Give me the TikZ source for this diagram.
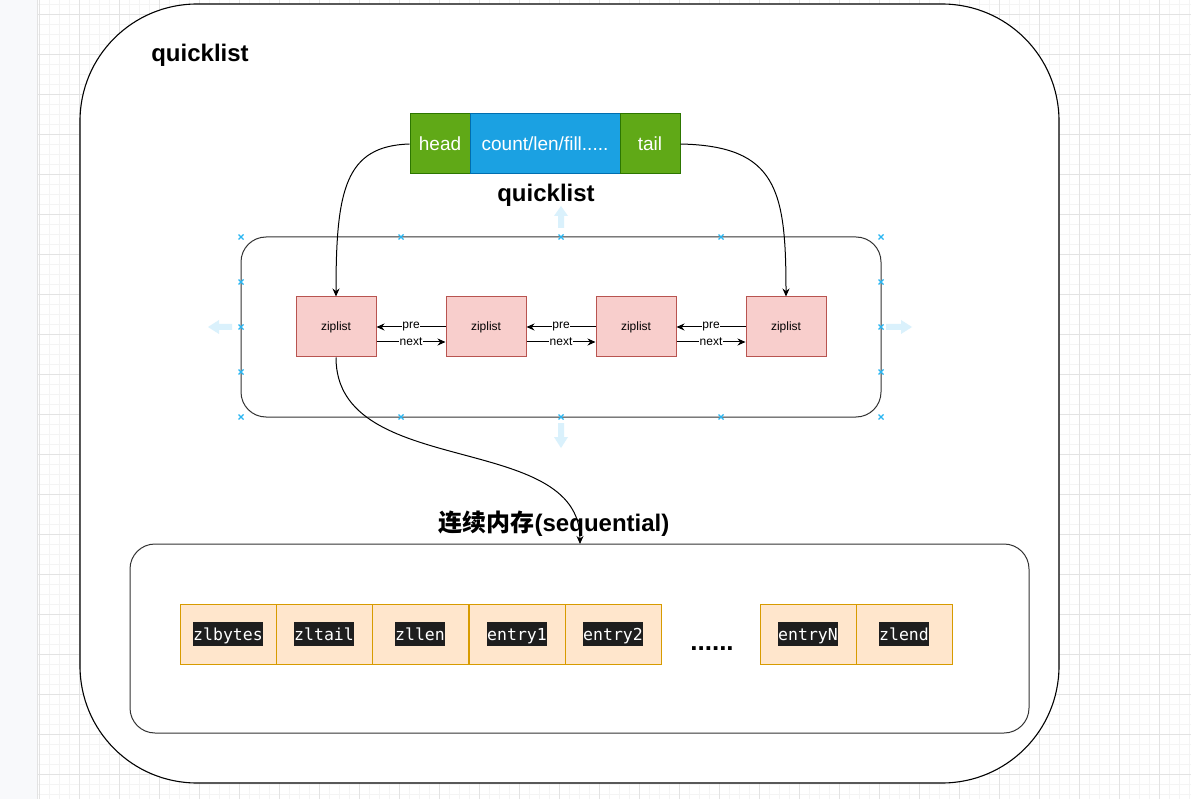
\documentclass[tikz,border=0pt]{standalone}
\usepackage{fontspec}
\setmainfont{Liberation Sans}
\setmonofont{DejaVu Sans Mono}
\newfontfamily\cjk{Noto Sans CJK SC}
\usetikzlibrary{arrows.meta}

\definecolor{headgreen}{HTML}{60A917}
\definecolor{headline}{HTML}{2D7600}
\definecolor{cntblue}{HTML}{1BA1E2}
\definecolor{cntline}{HTML}{006EAF}
\definecolor{zipfill}{HTML}{F8CECC}
\definecolor{zipline}{HTML}{B85450}
\definecolor{cellfill}{HTML}{FFE6CC}
\definecolor{cellline}{HTML}{D79B00}
\definecolor{codebg}{HTML}{1E1E1E}
\definecolor{gridminor}{HTML}{F4F4F4}
\definecolor{gridmajor}{HTML}{E3E3E3}
\definecolor{stripfill}{HTML}{F8F9FB}
\definecolor{handle}{HTML}{29B6F2}
\definecolor{hint}{HTML}{DAF1FC}

\newcommand{\zlcode}[1]{{\setlength{\fboxsep}{0pt}\colorbox{codebg}{\rule[-5pt]{0pt}{23.5pt}\textcolor{white}{\ttfamily\fontsize{16.5}{20}\selectfont #1}}}}
\newcommand{\bigtitle}{\bfseries\fontsize{24}{28}\selectfont}

\tikzset{
  hdr/.style={draw=headline, fill=headgreen, text=white, minimum height=60pt, inner sep=0pt, font=\fontsize{19}{23}\selectfont},
  cnt/.style={draw=cntline, fill=cntblue, text=white, minimum height=60pt, minimum width=150pt, inner sep=0pt, font=\fontsize{19}{23}\selectfont},
  zip/.style={draw=zipline, fill=zipfill, minimum width=80pt, minimum height=60pt, inner sep=0pt, font=\fontsize{12}{14}\selectfont},
  cell/.style={draw=cellline, fill=cellfill, minimum width=96pt, minimum height=60pt, inner sep=0pt},
  lnk/.style={-{Stealth[length=8pt,width=7pt]}, line width=1pt},
  tag/.style={fill=white, inner sep=0.5pt, font=\fontsize{12}{14}\selectfont},
  hmark/.style={handle, line width=1.1pt},
}

\begin{document}
\begin{tikzpicture}[x=1pt, y=-1pt, line width=1pt]
\useasboundingbox (0,0) rectangle (1191,799);

% editor canvas
\fill[white] (0,0) rectangle (1191,799);
\foreach \x in {39,49,...,1189} \draw[gridminor, line width=0.8pt] (\x,0) -- (\x,799);
\foreach \y in {4,14,...,794} \draw[gridminor, line width=0.8pt] (38,\y) -- (1191,\y);
\foreach \x in {39,79,...,1189} \draw[gridmajor, line width=0.8pt] (\x,0) -- (\x,799);
\foreach \y in {14,54,...,794} \draw[gridmajor, line width=0.8pt] (38,\y) -- (1191,\y);
\fill[stripfill] (0,0) rectangle (37,799);
\draw[gridmajor] (37.5,0) -- (37.5,799);

% outer box
\draw[fill=white, rounded corners=117pt, line width=1.1pt] (80,4) rectangle (1059,783);
\node[font=\bigtitle] (title) at (200,55) {quicklist};

% quicklist struct
\node[hdr, minimum width=60pt] (head) at (440,144) {head};
\node[cnt] (cnt) at (545,144) {count/len/fill.....};
\node[hdr, minimum width=60pt] (tail) at (650,144) {tail};
\node[font=\bigtitle] (qlabel) at (546,195) {quicklist};

% list of ziplists
\draw[rounded corners=25pt, draw=black!80] (241,237) rectangle (881,417);
\node[zip] (z1) at (336,327) {ziplist};
\node[zip] (z2) at (486,327) {ziplist};
\node[zip] (z3) at (636,327) {ziplist};
\node[zip] (z4) at (786,327) {ziplist};

\foreach \a/\b in {z1/z2, z2/z3, z3/z4} {
  \draw[lnk] ([yshift=0pt]\b.west) -- node[tag] {pre} ([yshift=0pt]\a.east);
  \draw[lnk] ([yshift=-15pt]\a.east) -- node[tag] {next} ([yshift=-15pt]\b.west);
}

\draw[lnk] (head.west) .. controls (345,146) and (336,190) .. (z1.north);
\draw[lnk] (tail.east) .. controls (777,146) and (786,190) .. (z4.north);

% selection handles
\foreach \x in {241,401,561,721,881} {
  \draw[hmark] (\x-2.5,237-2.5) -- (\x+2.5,237+2.5) (\x-2.5,237+2.5) -- (\x+2.5,237-2.5);
  \draw[hmark] (\x-2.5,417-2.5) -- (\x+2.5,417+2.5) (\x-2.5,417+2.5) -- (\x+2.5,417-2.5);
}
\foreach \y in {282,327,372} {
  \draw[hmark] (241-2.5,\y-2.5) -- (241+2.5,\y+2.5) (241-2.5,\y+2.5) -- (241+2.5,\y-2.5);
  \draw[hmark] (881-2.5,\y-2.5) -- (881+2.5,\y+2.5) (881-2.5,\y+2.5) -- (881+2.5,\y-2.5);
}
\fill[hint] (558,228) -- (558,216) -- (554,216) -- (561,206) -- (568,216) -- (564,216) -- (564,228) -- cycle;
\fill[hint] (558,423) -- (558,437) -- (554,437) -- (561,448) -- (568,437) -- (564,437) -- (564,423) -- cycle;
\fill[hint] (232,324) -- (219,324) -- (219,320) -- (208,327) -- (219,334) -- (219,330) -- (232,330) -- cycle;
\fill[hint] (886,324) -- (901,324) -- (901,320) -- (912,327) -- (901,334) -- (901,330) -- (886,330) -- cycle;

% sequential memory
\node[font=\bigtitle] (seq) at (554,524) {{\cjk\bfseries 连续内存}(sequential)};
\draw[rounded corners=25pt, draw=black!80] (130,544) rectangle (1029,733);
\coordinate (mem) at (580,544);
\draw[lnk] (z1.south) .. controls (336,480) and (580,430) .. (mem);

\node[cell] (zlbytes) at (228,634) {\zlcode{zlbytes}};
\node[cell] (zltail) at (324,634) {\zlcode{zltail}};
\node[cell] (zllen) at (420,634) {\zlcode{zllen}};
\node[cell] (entryA) at (517,634) {\zlcode{entry1}};
\node[cell] (entryB) at (613,634) {\zlcode{entry2}};
\node[font=\bfseries\fontsize{26}{30}\selectfont, anchor=base] (dots) at (712,650) {......};
\node[cell] (entryN) at (808,634) {\zlcode{entryN}};
\node[cell] (zlend) at (904,634) {\zlcode{zlend}};
\end{tikzpicture}
\end{document}
